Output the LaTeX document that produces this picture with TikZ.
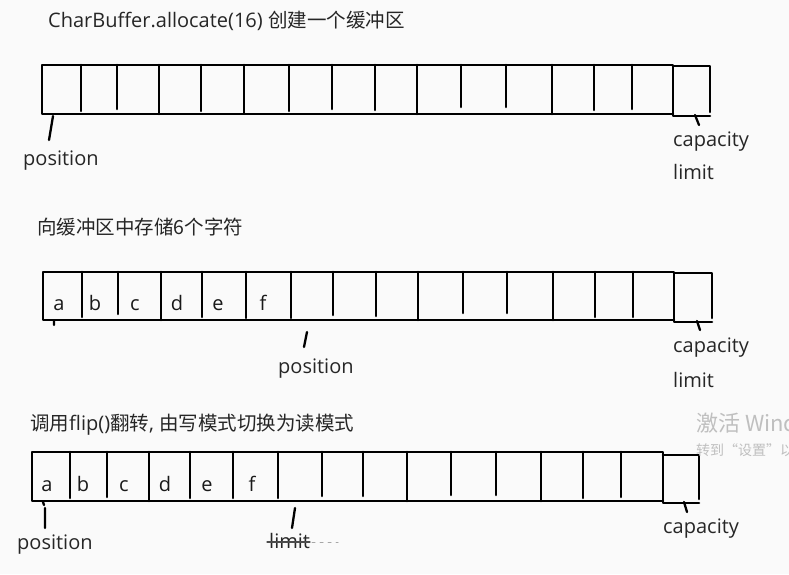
\documentclass[tikz,border=0pt]{standalone}
\usepackage{fontspec}
\setmainfont{Open Sans}
\newfontfamily\cjk{Noto Sans CJK SC}
\begin{document}
\begin{tikzpicture}[x=1pt, y=-1pt, line join=round, line cap=round, font=\fontsize{20}{24}\selectfont]
	\tikzset{
		cell/.style={line width=2.6pt},
		tick/.style={line width=2.3pt},
		txt/.style={anchor=base west, inner sep=0pt, text=black!85},
		chr/.style={anchor=base, inner sep=0pt, text=black!90},
		wmark/.style={anchor=base west, inner sep=0pt, text=black!25}
	}
	\useasboundingbox[fill=black!2] (0,0) rectangle (789,574);
	% allocate
	\node[txt] (title1) at (48,27) {CharBuffer.allocate(16) {\cjk\fontsize{19.5}{24}\selectfont 创建一个缓冲区}};
	\draw[cell] (673,114) -- (42,114) -- (42,65) -- (673,65) -- (673,116) -- (710,116);
	\draw[cell] (673,66) -- (710,66) -- (710,112);
	\foreach \x/\g in {81/3,117/5,159/0,201/3,244/1,289/3,332/5,375/4,417/0,461/7,506/7,552/0,594/4,632/5}
		\draw[cell] (\x,65) -- (\x,114-\g);
	\node[txt] (pos1) at (23,165) {position};
	\node[txt] (cap1) at (673,146) {capacity};
	\node[txt] (lim1) at (673,179) {limit};
	\coordinate (p1a) at (53,116); \coordinate (p1b) at (49,140);
	\coordinate (c1a) at (695,115); \coordinate (c1b) at (699,125);
	\draw[tick] (p1a) -- (p1b) (c1a) -- (c1b);
	% put
	\node[txt, font=\cjk\fontsize{19.5}{24}\selectfont] (title2) at (37,234) {向缓冲区中存储6个字符};
	\draw[cell] (674,320) -- (43,320) -- (43,272) -- (674,272) -- (674,322) -- (712,322);
	\draw[cell] (674,273) -- (712,273) -- (712,318);
	\foreach \x/\g in {82/3,118/6,161/0,202/3,246/2,291/2,333/5,376/4,418/0,463/7,507/7,553/0,595/3,633/3}
		\draw[cell] (\x,272) -- (\x,320-\g);
	\foreach \x/\c in {59/a,95/b,135/c,177/d,218/e,263/f}
		\node[chr] (put\c) at (\x,310) {\c};
	\node[txt] (pos2) at (278,373) {position};
	\node[txt] (cap2) at (673,352) {capacity};
	\node[txt] (lim2) at (673,387) {limit};
	\coordinate (p2a) at (307,332); \coordinate (p2b) at (304,347);
	\coordinate (c2a) at (697,321); \coordinate (c2b) at (700,330);
	\coordinate (o2a) at (54,321); \coordinate (o2b) at (54,325);
	\draw[tick] (p2a) -- (p2b) (c2a) -- (c2b) (o2a) -- (o2b);
	% flip
	\node[txt, font=\cjk\fontsize{19.5}{24}\selectfont] (title3) at (30,430) {调用{\rmfamily\fontsize{20}{24}\selectfont flip()}翻转{\rmfamily\fontsize{20}{24}\selectfont, }由写模式切换为读模式};
	\draw[cell] (663,501) -- (32,501) -- (32,452) -- (663,452) -- (663,503) -- (699,503);
	\draw[cell] (663,455) -- (699,455) -- (699,499);
	\foreach \x/\g in {70/3,107/4,149/0,190/3,233/3,278/3,322/5,363/5,407/0,451/6,496/6,541/0,583/3,621/4}
		\draw[cell] (\x,452) -- (\x,501-\g);
	\foreach \x/\c in {47/a,83/b,124/c,165/d,207/e,252/f}
		\node[chr] (flip\c) at (\x,491) {\c};
	\node[txt] (pos3) at (17,549) {position};
	\node[txt] (lim3) at (269,548) {limit};
	\node[txt] (cap3) at (663,533) {capacity};
	\coordinate (p3a) at (45,508); \coordinate (p3b) at (45,528);
	\coordinate (o3a) at (43,502); \coordinate (o3b) at (44,505);
	\coordinate (l3a) at (295,508); \coordinate (l3b) at (292,528);
	\coordinate (c3a) at (684,502); \coordinate (c3b) at (687,512);
	\draw[tick] (p3a) -- (p3b) (o3a) -- (o3b) (l3a) -- (l3b) (c3a) -- (c3b);
	\draw[line width=1.2pt, black!70] (267,542) -- (310,542);
	\draw[line width=1pt, black!35, dash pattern=on 3pt off 5pt] (312,542) -- (338,542);
	% watermark
	\node[wmark, font=\cjk\fontsize{22}{24}\selectfont] (win1) at (696,431) {激活 Windows};
	\node[wmark, font=\cjk\fontsize{14}{16}\selectfont] (win2) at (696,455) {转到“设置”以激活 Windows。};
\end{tikzpicture}
\end{document}
